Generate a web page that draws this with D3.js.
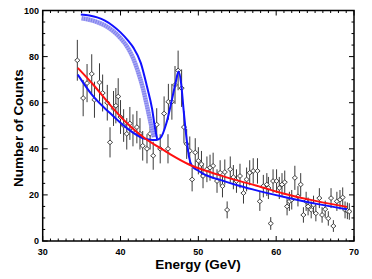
<!DOCTYPE html>
<html>
<head>
<meta charset="utf-8">
<script src="https://cdn.jsdelivr.net/npm/d3@7"></script>
<style>
  body { margin: 0; background: #fff; }
  svg { display: block; font-family: "Liberation Sans", Arial, sans-serif; }
</style>
</head>
<body>
<svg id="chart" width="372" height="279"></svg>
<script>
// measured points (energy in GeV, number of counts)
var energy = [34.45, 35.2, 35.7, 36.3, 36.65, 37.3, 37.7, 38.3, 38.65, 39.1, 39.4, 39.7, 40.0, 40.4, 40.8,
  41.2, 41.6, 42.1, 42.5, 42.85, 43.4, 43.8, 44.2, 44.65, 45.1, 45.6, 46.1, 46.15, 46.6, 47.0, 47.4,
  47.85, 48.15, 48.5, 48.9, 49.2, 49.6, 50.0, 50.4, 50.6, 51.1, 51.5, 51.9, 52.4, 52.8, 53.1, 53.4,
  53.7, 54.1, 54.5, 54.9, 55.35, 55.8, 56.2, 56.6, 57.05, 57.6, 57.9, 58.35, 58.8, 59.0, 59.3, 59.6,
  60.05, 60.4, 60.75, 61.1, 61.4, 61.7, 62.0, 62.4, 62.8, 63.15, 63.5, 63.85, 64.1, 64.5, 64.8, 65.1,
  65.55, 65.9, 66.3, 66.7, 67.05, 67.35, 67.8, 68.2, 68.55, 68.85, 69.15, 69.4];
var counts = [78.4, 62.0, 68.5, 72.5, 61.3, 68.8, 64.2, 60.0, 42.8, 57.5, 58.7, 62.7, 53.8, 50.1, 46.5,
  51.0, 48.0, 49.4, 46.5, 41.3, 40.0, 46.5, 37.0, 50.5, 40.0, 55.3, 40.0, 60.4, 60.4, 67.7, 74.0,
  66.3, 49.4, 42.1, 39.1, 26.7, 38.4, 34.8, 33.3, 28.2, 31.1, 31.8, 32.6, 26.0, 29.6, 23.8, 29.9,
  13.5, 31.1, 27.7, 26.0, 28.2, 20.8, 26.7, 29.6, 30.4, 30.4, 17.2, 23.8, 24.5, 23.0, 7.6, 26.0,
  26.0, 23.0, 24.5, 25.5, 15.0, 17.2, 17.9, 27.4, 19.4, 24.5, 11.3, 17.2, 15.0, 13.5, 15.7, 12.0,
  18.6, 11.3, 13.8, 9.8, 18.6, 6.5, 17.2, 17.9, 18.9, 13.5, 13.1, 12.8];

// red fit (background only)
var redE = [34.5, 36.5, 38.65, 40.8, 42.9, 45.1, 46.4, 48.8, 50.6, 52.5, 55.0, 57.5, 60.9, 65.2, 69.1];
var redV = [75.1, 67.8, 59.1, 51.2, 45.1, 40.3, 37.6, 33.2, 30.9, 28.8, 26.3, 24.0, 20.6, 17.3, 14.8];

// blue fit (background + peak)
var blueE = [34.5, 36.5, 38.65, 40.8, 42.9, 43.8, 44.5, 45.1, 45.9, 46.6, 47.1, 47.45, 47.8, 48.1, 48.5,
  48.8, 49.15, 50.0, 50.6, 52.8, 55.0, 57.1, 60.9, 65.2, 69.1];
var blueV = [72.2, 62.7, 55.5, 49.0, 44.6, 43.9, 43.8, 44.6, 51.2, 61.3, 69.0, 73.5, 68.0, 57.0, 44.0,
  36.5, 32.8, 30.5, 29.2, 26.5, 24.2, 22.3, 19.2, 16.1, 13.8];

// upper blue branch and its shaded band
var upperE = [34.9, 36, 37, 38, 39, 40, 41, 41.65, 42.6, 43.4, 44.05, 44.45, 44.7];
var upperV = [98.3, 97.8, 97.0, 95.6, 93.4, 90.5, 86.8, 83.9, 77.3, 67.0, 57.4, 48.6, 44.3];
var bandE = [35.0, 36, 37, 38, 39, 40, 41, 41.6, 42.2, 42.9, 43.5, 43.95, 44.3];
var bandV = [96.6, 96.0, 95.0, 93.5, 91.2, 88.0, 83.5, 79.5, 74.0, 66.0, 57.0, 50.0, 45.0];

var xTicks = [30, 40, 50, 60, 70];
var yTicks = [0, 20, 40, 60, 80, 100];

(function () {
  var svg = d3.select("#chart");
  var x0 = 42.7, x1 = 354, y0 = 241, y1 = 10.5;

  var x = d3.scaleLinear().domain([30, 70]).range([x0, x1]);
  var y = d3.scaleLinear().domain([0, 100]).range([y0, y1]);

  var plot = svg.append("g");

  // error bars (poisson)
  var pts = energy.map(function (e, i) { return { e: e, c: counts[i] }; });
  plot.append("g")
    .selectAll("line")
    .data(pts)
    .join("line")
    .attr("x1", function (d) { return x(d.e); })
    .attr("x2", function (d) { return x(d.e); })
    .attr("y1", function (d) { return y(d.c - Math.sqrt(d.c)); })
    .attr("y2", function (d) { return y(d.c + Math.sqrt(d.c)); })
    .attr("stroke", "#3a3a3a")
    .attr("stroke-width", 1);

  plot.append("g")
    .selectAll("path")
    .data(pts)
    .join("path")
    .attr("d", "M0,-2.3L2.6,0L0,2.3L-2.6,0Z")
    .attr("transform", function (d) { return "translate(" + x(d.e) + "," + y(d.c) + ")"; })
    .attr("fill", "#fff")
    .attr("stroke", "#333")
    .attr("stroke-width", 0.9);

  var line = d3.line()
    .x(function (d) { return x(d[0]); })
    .y(function (d) { return y(d[1]); })
    .curve(d3.curveMonotoneX);

  function zip(a, b) { return a.map(function (v, i) { return [v, b[i]]; }); }

  // band
  plot.append("path")
    .attr("d", line(zip(bandE, bandV)))
    .attr("fill", "none")
    .attr("stroke", "#a8a8f4")
    .attr("stroke-width", 4.5);
  plot.append("path")
    .attr("d", line(zip(bandE, bandV)))
    .attr("fill", "none")
    .attr("stroke", "#5c5ce8")
    .attr("stroke-width", 4)
    .attr("stroke-dasharray", "1,1.4")
    .attr("opacity", 0.55);

  plot.append("path")
    .attr("d", line(zip(upperE, upperV)))
    .attr("fill", "none")
    .attr("stroke", "#1010ff")
    .attr("stroke-width", 2);

  plot.append("path")
    .attr("d", line(zip(blueE, blueV)))
    .attr("fill", "none")
    .attr("stroke", "#1010ff")
    .attr("stroke-width", 2);

  plot.append("path")
    .attr("d", line(zip(redE, redV)))
    .attr("fill", "none")
    .attr("stroke", "#ff1010")
    .attr("stroke-width", 2);

  // frame
  svg.append("rect")
    .attr("x", x0).attr("y", y1)
    .attr("width", x1 - x0).attr("height", y0 - y1)
    .attr("fill", "none").attr("stroke", "#000").attr("stroke-width", 1.5);

  // inward ticks on all sides
  var ax = svg.append("g").attr("stroke", "#000").attr("stroke-width", 1);
  d3.range(30, 70.01, 1).forEach(function (t) {
    var len = t % 10 === 0 ? 5 : 2.5;
    ax.append("line").attr("x1", x(t)).attr("x2", x(t)).attr("y1", y0).attr("y2", y0 - len);
    ax.append("line").attr("x1", x(t)).attr("x2", x(t)).attr("y1", y1).attr("y2", y1 + len);
  });
  d3.range(0, 100.01, 5).forEach(function (t) {
    var len = t % 20 === 0 ? 5 : 2.5;
    ax.append("line").attr("y1", y(t)).attr("y2", y(t)).attr("x1", x0).attr("x2", x0 + len);
    ax.append("line").attr("y1", y(t)).attr("y2", y(t)).attr("x1", x1).attr("x2", x1 - len);
  });

  svg.append("g").selectAll("text")
    .data(xTicks).join("text")
    .attr("x", function (d) { return x(d); })
    .attr("y", 255)
    .attr("text-anchor", "middle")
    .attr("font-size", 9)
    .attr("font-weight", "bold")
    .text(function (d) { return d; });

  svg.append("g").selectAll("text")
    .data(yTicks).join("text")
    .attr("x", 39)
    .attr("y", function (d) { return y(d) + 3; })
    .attr("text-anchor", "end")
    .attr("font-size", 9)
    .attr("font-weight", "bold")
    .text(function (d) { return d; });

  svg.append("text")
    .attr("x", 198).attr("y", 269)
    .attr("text-anchor", "middle")
    .attr("font-size", 13.5)
    .attr("font-weight", "bold")
    .text("Energy (GeV)");

  svg.append("text")
    .attr("transform", "translate(23,128) rotate(-90)")
    .attr("text-anchor", "middle")
    .attr("font-size", 13.5)
    .attr("font-weight", "bold")
    .text("Number of Counts");
})();
</script>
</body>
</html>
